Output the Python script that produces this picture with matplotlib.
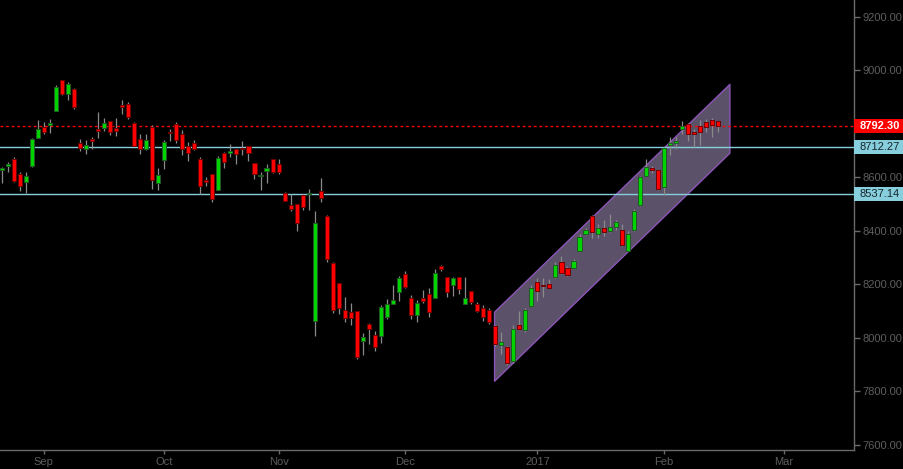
import matplotlib
matplotlib.use("Agg")
import matplotlib.pyplot as plt
import matplotlib.transforms as mtransforms
from matplotlib.patches import Rectangle

plt.rcParams['font.family'] = ['Liberation Sans', 'DejaVu Sans']

# daily candles, one per trading day (late Aug 2016 .. mid Feb 2017)
opens = [8627, 8644, 8667, 8611, 8582, 8643, 8748, 8789, 8794, 8848,
         8962, 8911, 8929, 8729, 8707, 8739, 8776, 8786, 8811, 8785,
         8866, 8874, 8803, 8744, 8706, 8789, 8578, 8663, 8766, 8800,
         8763, 8718, 8729, 8667, 8586, 8611, 8553, 8691, 8689, 8704,
         8707, 8718, 8652, 8604, 8622, 8669, 8648, 8541, 8496, 8500,
         8533, 8536, 8065, 8549, 8456, 8281, 8204, 8103, 8096, 8100,
         7987, 8053, 8012, 8007, 8080, 8128, 8170, 8240, 8151, 8087,
         8151, 8165, 8150, 8270, 8229, 8196, 8229, 8125, 8177, 8125,
         8111, 8103, 8044, 7973, 7966, 7913, 8048, 8028, 8119, 8208,
         8196, 8201, 8227, 8282, 8260, 8262, 8326, 8389, 8456, 8389,
         8411, 8400, 8415, 8404, 8326, 8404, 8497, 8606, 8633, 8627,
         8565, 8721, 8729, 8780, 8800, 8770, 8792, 8806, 8813, 8810]
highs = [8637, 8658, 8676, 8620, 8619, 8747, 8815, 8808, 8818, 8945,
         8962, 8955, 8933, 8742, 8738, 8749, 8845, 8820, 8811, 8823,
         8890, 8882, 8806, 8763, 8763, 8796, 8636, 8738, 8779, 8806,
         8778, 8731, 8741, 8676, 8603, 8611, 8679, 8695, 8723, 8706,
         8736, 8718, 8652, 8621, 8649, 8669, 8669, 8545, 8536, 8500,
         8537, 8556, 8474, 8596, 8460, 8284, 8207, 8153, 8130, 8102,
         8019, 8057, 8026, 8123, 8144, 8197, 8231, 8249, 8160, 8141,
         8178, 8188, 8256, 8273, 8229, 8228, 8229, 8229, 8177, 8135,
         8124, 8111, 8049, 8022, 7970, 8047, 8101, 8111, 8196, 8223,
         8223, 8220, 8285, 8305, 8267, 8294, 8387, 8410, 8460, 8425,
         8439, 8462, 8442, 8425, 8399, 8482, 8606, 8668, 8641, 8629,
         8715, 8752, 8749, 8811, 8802, 8779, 8814, 8817, 8821, 8810]
lows = [8580, 8621, 8584, 8547, 8543, 8640, 8747, 8760, 8765, 8847,
        8908, 8890, 8854, 8699, 8688, 8704, 8747, 8773, 8758, 8754,
        8837, 8818, 8716, 8686, 8701, 8557, 8553, 8631, 8734, 8728,
        8684, 8660, 8701, 8537, 8566, 8506, 8551, 8636, 8676, 8649,
        8683, 8662, 8595, 8551, 8580, 8616, 8611, 8510, 8476, 8399,
        8478, 8478, 8006, 8509, 8283, 8093, 8091, 8061, 8049, 7921,
        7938, 7978, 7953, 7980, 8069, 8128, 8139, 8187, 8071, 8058,
        8129, 8080, 8150, 8249, 8154, 8157, 8164, 8125, 8128, 8095,
        8064, 8053, 7970, 7941, 7899, 7908, 8032, 8022, 8119, 8137,
        8153, 8188, 8224, 8239, 8230, 8260, 8324, 8384, 8372, 8372,
        8382, 8397, 8404, 8345, 8323, 8400, 8494, 8606, 8617, 8553,
        8535, 8682, 8706, 8762, 8737, 8713, 8719, 8768, 8749, 8768]
closes = [8631, 8649, 8588, 8569, 8604, 8742, 8781, 8769, 8803, 8937,
          8911, 8948, 8861, 8711, 8722, 8737, 8774, 8803, 8770, 8774,
          8864, 8826, 8717, 8705, 8741, 8589, 8607, 8733, 8764, 8741,
          8704, 8692, 8704, 8569, 8584, 8519, 8674, 8656, 8699, 8688,
          8705, 8689, 8611, 8610, 8633, 8621, 8621, 8510, 8482, 8430,
          8490, 8538, 8429, 8521, 8293, 8106, 8111, 8076, 8074, 7928,
          8003, 8033, 7965, 8116, 8125, 8140, 8222, 8191, 8084, 8129,
          8139, 8098, 8244, 8257, 8170, 8222, 8181, 8151, 8136, 8102,
          8080, 8058, 7976, 7985, 7907, 8032, 8032, 8103, 8186, 8177,
          8193, 8188, 8271, 8241, 8234, 8286, 8377, 8403, 8397, 8410,
          8395, 8415, 8434, 8347, 8389, 8474, 8600, 8637, 8628, 8558,
          8710, 8730, 8736, 8791, 8762, 8762, 8771, 8787, 8797, 8792.30]

month_pos = [7, 27, 46, 67, 89, 110, 130]
month_labels = ['Sep', 'Oct', 'Nov', 'Dec', '2017', 'Feb', 'Mar']
price_ticks = [7600, 7800, 8000, 8200, 8400, 8600, 8800, 9000, 9200]
# 8800 sits under the last-price tag, so its label is not shown
price_labels = ['7600.00', '7800.00', '8000.00', '8200.00', '8400.00',
                '8600.00', '', '9000.00', '9200.00']

# rising channel drawn on the chart
channel_x = [81.8, 120.9]
channel_low = [7840, 8692]
channel_high = [8098, 8949]

support_levels = [8712.27, 8537.14]
last_price = 8792.30

bg = '#000000'
axis_col = '#6a6a6a'
text_col = '#5e5e5e'
green = '#00d400'
red = '#ff0000'
level_col = '#88cfdd'

fig = plt.figure(figsize=(9.04, 4.69), dpi=100, facecolor=bg)
ax = fig.add_axes([0, 19 / 469, 854 / 904, 450 / 469], facecolor=bg)

# channel
ax.fill_between(channel_x, channel_low, channel_high, color='#5b5169',
                edgecolor='#8d55b8', linewidth=1.0, zorder=1)

# levels
for lv in support_levels:
    ax.axhline(lv, color=level_col, lw=1.0, zorder=1.5)
ax.axhline(last_price, color=red, lw=1.0, ls=(0, (2, 2)), zorder=1.5)

# candles
idx = list(range(len(opens)))
ax.vlines(idx, lows, highs, color='#8a8a8a', lw=0.9, zorder=2)
for i, (o, c) in enumerate(zip(opens, closes)):
    up = c >= o
    h = max(abs(c - o), 6)
    ax.bar(i, h, bottom=min(o, c), width=0.68,
           color=green if up else red,
           edgecolor='#1f5a22' if up else '#6e0000',
           linewidth=0.7, zorder=3)

ax.set_xlim(-0.28, 141.6)
ax.set_ylim(7581.3, 9262.4)

ax.yaxis.tick_right()
ax.set_yticks(price_ticks)
ax.set_yticklabels(price_labels)
ax.set_xticks(month_pos)
ax.set_xticklabels(month_labels)
ax.tick_params(axis='y', colors=axis_col, labelcolor=text_col, length=4,
               width=1, pad=2, labelsize=8)
ax.tick_params(axis='x', colors=axis_col, labelcolor=text_col, length=3,
               width=1, pad=2, labelsize=8)
for s in ('top', 'left'):
    ax.spines[s].set_visible(False)
for s in ('right', 'bottom'):
    ax.spines[s].set_color(axis_col)
    ax.spines[s].set_linewidth(1)

# price tags on the right axis
trans = mtransforms.blended_transform_factory(ax.transAxes, ax.transData)
box_h = 14 / 0.2677
tags = [(last_price, red, 'white', 'bold')] + \
       [(lv, level_col, '#16252c', 'normal') for lv in support_levels]
for val, fc, tc, fw in tags:
    ax.add_patch(Rectangle((1.0, val - box_h / 2), 50 / 854, box_h,
                           transform=trans, facecolor=fc, edgecolor='none',
                           clip_on=False, zorder=10))
    ax.text(860 / 854, val, '%.2f' % val, transform=trans, color=tc,
            fontsize=8, fontweight=fw, va='center', ha='left',
            clip_on=False, zorder=11)

fig.savefig('out.png', dpi=100, facecolor=bg)
